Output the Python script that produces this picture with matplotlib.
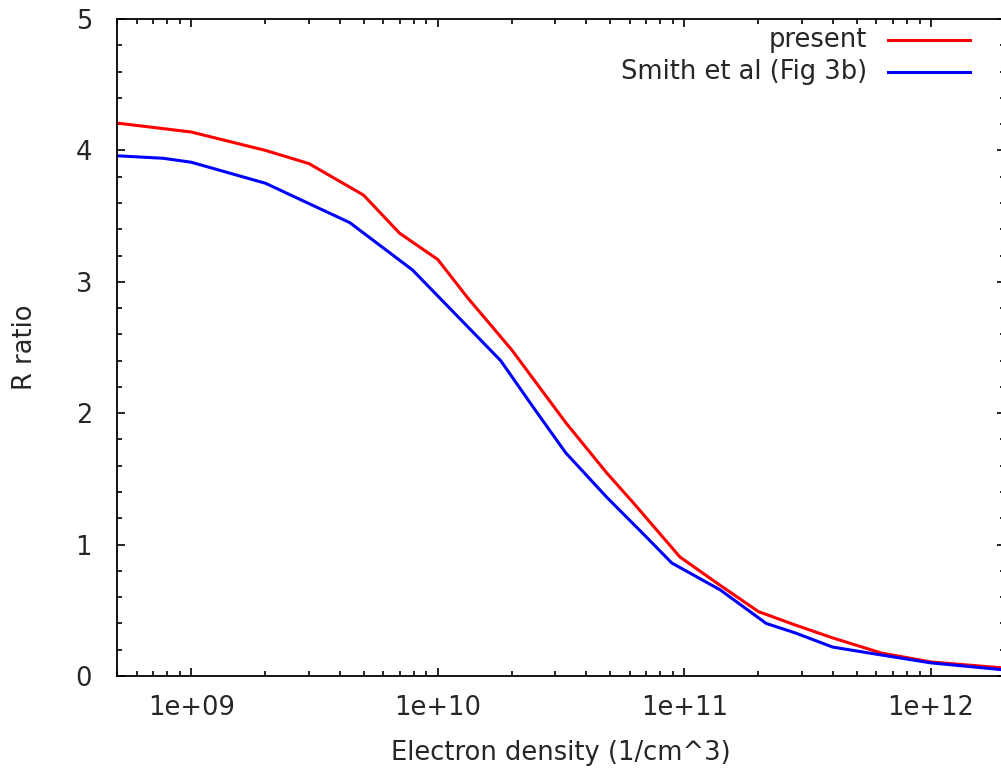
import matplotlib
matplotlib.use("Agg")
import matplotlib.pyplot as plt
from matplotlib.ticker import LogLocator, MultipleLocator, FixedLocator, FixedFormatter
from matplotlib.lines import Line2D

# electron density (1/cm^3) and R ratio
dens_present = [4.9e8, 1e9, 2e9, 3e9, 5e9, 7e9, 1e10, 1.32e10, 2e10, 3.3e10,
                4.85e10, 6.2e10, 9.6e10, 1.35e11, 2e11, 2.8e11, 4e11, 6.3e11,
                1e12, 2e12]
r_present = [4.21, 4.14, 4.00, 3.90, 3.66, 3.37, 3.17, 2.88, 2.48, 1.93,
             1.545, 1.32, 0.906, 0.71, 0.49, 0.39, 0.29, 0.175, 0.107, 0.06]

dens_smith = [4.9e8, 7.7e8, 1e9, 2e9, 4.4e9, 7.9e9, 1.32e10, 1.8e10, 2.43e10,
              3.3e10, 4.85e10, 7e10, 8.9e10, 1.4e11, 2.15e11, 2.8e11, 4e11,
              6.3e11, 1e12, 2e12]
r_smith = [3.96, 3.94, 3.91, 3.75, 3.45, 3.09, 2.66, 2.40, 2.05, 1.70, 1.36,
           1.06, 0.86, 0.655, 0.40, 0.33, 0.22, 0.16, 0.10, 0.046]

x_ticks = [1e9, 1e10, 1e11, 1e12]
x_tick_labels = ["1e+09", "1e+10", "1e+11", "1e+12"]
y_ticks = [0, 1, 2, 3, 4, 5]

txt = "#262626"
fs = 18.5

fig = plt.figure(figsize=(10.01, 7.70), dpi=100)
ax = fig.add_axes([117 / 1001, 1 - 676 / 770, 888 / 1001, 657 / 770])

ax.plot(dens_present, r_present, color="#ff0000", lw=2.2)
ax.plot(dens_smith, r_smith, color="#0000ff", lw=2.2)

ax.set_xscale("log")
ax.set_xlim(5e8, 2e12)
ax.set_ylim(0, 5)

ax.xaxis.set_major_locator(FixedLocator(x_ticks))
ax.xaxis.set_major_formatter(FixedFormatter(x_tick_labels))
ax.xaxis.set_minor_locator(LogLocator(base=10, subs=range(2, 10)))
ax.yaxis.set_major_locator(FixedLocator(y_ticks))
ax.yaxis.set_minor_locator(MultipleLocator(0.2))

ax.tick_params(which="both", direction="in", top=True, right=True,
               colors="black", labelcolor=txt, labelsize=fs, width=1.2)
ax.tick_params(which="major", length=6)
ax.tick_params(which="minor", length=3.5)
ax.tick_params(axis="y", which="major", pad=18)
ax.tick_params(axis="x", which="major", pad=14)

for s in ax.spines.values():
    s.set_linewidth(1.3)

ax.set_xlabel("Electron density (1/cm^3)", fontsize=fs, color=txt, labelpad=13)
ax.set_ylabel("R ratio", fontsize=fs, color=txt, labelpad=27)

# key, right-aligned text like the original
labels = ["present", "Smith et al (Fig 3b)"]
colors = ["#ff0000", "#0000ff"]
rows = [40, 72]
for lab, c, yp in zip(labels, colors, rows):
    yf = 1 - yp / 770
    fig.text(867 / 1001, yf, lab, ha="right", va="center", fontsize=fs, color=txt)
    fig.add_artist(Line2D([888 / 1001, 970 / 1001], [yf, yf], color=c, lw=2.2,
                          transform=fig.transFigure))

fig.savefig("out.png", dpi=100)
